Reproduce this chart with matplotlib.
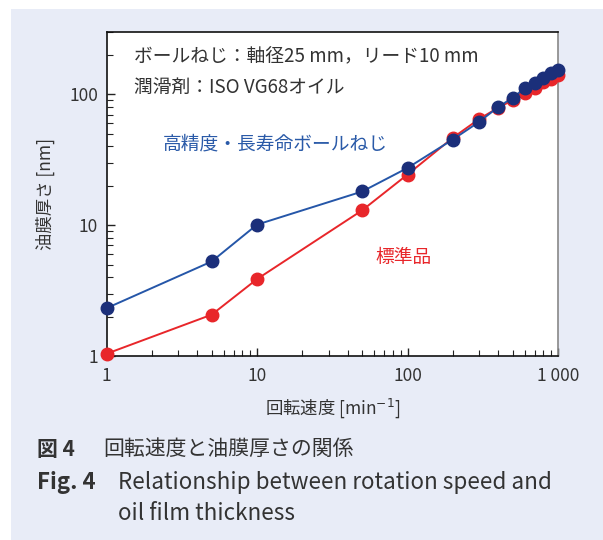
import matplotlib
matplotlib.use("Agg")
import matplotlib.pyplot as plt
from matplotlib.patches import Rectangle
from matplotlib.ticker import NullFormatter, LogLocator

plt.rcParams['font.family'] = ['Noto Sans CJK JP', 'DejaVu Sans']

speed = [1, 5, 10, 50, 100, 200, 300, 400, 500, 600, 700, 800, 900, 1000]
high_precision = [2.32, 5.28, 10.1, 18.1, 27.4, 45.2, 61.8, 80, 94.3, 111, 123, 134, 147, 153]
standard = [1.04, 2.07, 3.87, 13.0, 24.4, 46.6, 65.0, 79, 90.4, 103, 112.5, 125, 132, 140]
xticks = [1, 10, 100, 1000]
xticklabels = ['1', '10', '100', '1 000']
yticks = [1, 10, 100]
yticklabels = ['1', '10', '100']

W, H = 603, 540
fig = plt.figure(figsize=(W/100, H/100), dpi=100)
fig.patch.set_facecolor('white')
fig.patches.append(Rectangle((11/W, 0), 1, (H-9)/H, transform=fig.transFigure,
                             facecolor='#e8ecf7', edgecolor='none', zorder=-10))

ax = fig.add_axes([106.5/W, 1-356/H, (558-106.5)/W, (356-32)/H])
ax.set_zorder(1)
ax.set_facecolor('white')
ax.set_xscale('log')
ax.set_yscale('log')
ax.set_xlim(1, 1000)
ax.set_ylim(1, 300)

red = '#e8262a'
navy = '#1b2f7a'
blue_line = '#2556a8'
ax.plot(speed, standard, '-', color=red, lw=1.4, zorder=2)
ax.plot(speed, standard, 'o', color=red, ms=9, zorder=3, clip_on=False)
ax.plot(speed, high_precision, '-', color=blue_line, lw=1.4, zorder=4)
ax.plot(speed, high_precision, 'o', color=navy, ms=9, zorder=5, clip_on=False)

ax.set_xticks(xticks)
ax.set_xticklabels(xticklabels)
ax.set_yticks(yticks)
ax.set_yticklabels(yticklabels)
ax.xaxis.set_minor_locator(LogLocator(base=10, subs=range(2, 10)))
ax.yaxis.set_minor_locator(LogLocator(base=10, subs=range(2, 10)))
ax.xaxis.set_minor_formatter(NullFormatter())
ax.yaxis.set_minor_formatter(NullFormatter())
ax.tick_params(which='both', direction='in', top=False, right=False, colors='#222222',
               labelcolor='#333333', labelsize=12.5)
ax.tick_params(which='major', length=6, width=1)
ax.tick_params(which='minor', length=4, width=0.8)
ax.tick_params(axis='x', which='major', pad=8)
ax.tick_params(axis='y', which='major', pad=6)
for s in ['left', 'bottom', 'top']:
    ax.spines[s].set_color('#111111')
    ax.spines[s].set_linewidth(1.2)
ax.spines['right'].set_color('#888888')
ax.spines['right'].set_linewidth(1.2)

ax.set_xlabel('回転速度 [min$^{-1}$]', fontsize=12.5, color='#333333', labelpad=8)
ax.set_ylabel('油膜厚さ [nm]', fontsize=12.5, color='#333333', labelpad=10)

ax.text(0.06, 0.925, 'ボールねじ：軸径25 mm，リード10 mm', transform=ax.transAxes,
        fontsize=13.5, color='#333333', va='center', ha='left')
ax.text(0.06, 0.83, '潤滑剤：ISO VG68オイル', transform=ax.transAxes,
        fontsize=13.5, color='#333333', va='center', ha='left')
ax.text(0.125, 0.655, '高精度・長寿命ボールねじ', transform=ax.transAxes,
        fontsize=13.5, color='#2a5aa8', va='center', ha='left')
ax.text(0.595, 0.305, '標準品', transform=ax.transAxes,
        fontsize=13.5, color=red, va='center', ha='left')

cap = '#333333'
fig.text(37/W, 1-449/H, '図 4', fontsize=15, fontweight='bold', color=cap, va='center', ha='left')
fig.text(103/W, 1-449/H, '回転速度と油膜厚さの関係', fontsize=15, color=cap, va='center', ha='left')
fig.text(37/W, 1-483/H, 'Fig. 4', fontsize=16, fontweight='bold', color=cap, va='center', ha='left')
fig.text(118/W, 1-483/H, 'Relationship between rotation speed and', fontsize=16.2, color=cap,
         va='center', ha='left')
fig.text(118/W, 1-514/H, 'oil film thickness', fontsize=16.2, color=cap, va='center', ha='left')

fig.savefig('out.png', dpi=100, facecolor=fig.get_facecolor())
